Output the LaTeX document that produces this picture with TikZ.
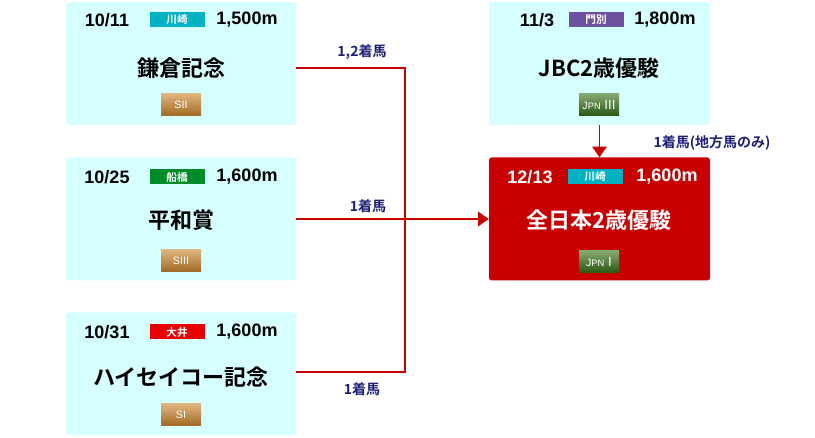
\documentclass[tikz,border=0pt]{standalone}
\usepackage{fontspec}
\setmainfont{Liberation Sans}
\newfontfamily\jp{Noto Sans CJK JP}[BoldFont={Noto Sans CJK JP Bold}]
\usetikzlibrary{arrows.meta}
\usetikzlibrary{positioning}

\definecolor{boxcyan}{RGB}{214,255,255}
\definecolor{boxred}{RGB}{200,0,0}
\definecolor{kawasaki}{RGB}{0,178,196}
\definecolor{funabashi}{RGB}{0,140,40}
\definecolor{ooi}{RGB}{235,0,0}
\definecolor{monbetsu}{RGB}{110,80,160}
\definecolor{gold}{RGB}{200,130,40}
\definecolor{jpngreen}{RGB}{50,110,20}
\definecolor{navy}{RGB}{30,30,120}

\tikzset{
  racebox/.style={rounded corners=2pt, minimum width=230*0.75pt, minimum height=123*0.75pt, inner sep=0pt},
  venue/.style={fill=#1, text=white, font=\jp\bfseries\fontsize{8}{8}\selectfont, minimum width=55*0.75pt, minimum height=15*0.75pt, inner sep=0pt},
  grade/.style={top color=#1!60!white, bottom color=#1!80!black, text=white, font=\rmfamily\fontsize{8}{8}\selectfont, minimum width=40*0.75pt, minimum height=22*0.75pt, inner sep=0pt},
  dateline/.style={font=\bfseries\fontsize{13.5}{14}\selectfont},
  title/.style={font=\jp\bfseries\fontsize{16.5}{17}\selectfont},
  cond/.style={text=navy, font=\jp\bfseries\fontsize{10.5}{11}\selectfont},
  link/.style={boxred, line width=0.9pt}
}

\begin{document}
\begin{tikzpicture}[x=0.75pt, y=-0.75pt]
  \useasboundingbox (0,0) rectangle (815,438);

  % boxes
  \node[racebox, fill=boxcyan] (kama) at (181,63.5) {};
  \node[racebox, fill=boxcyan] (heiwa) at (181,219) {};
  \node[racebox, fill=boxcyan] (haise) at (181,374) {};
  \node[racebox, fill=boxcyan, minimum width=221*0.75pt] (jbc) at (599.5,63.5) {};
  \node[racebox, fill=boxred, minimum width=221*0.75pt] (zen) at (599.5,219) {};

  % kamakura kinen
  \node[dateline] (kamad) at (107,20) {10/11};
  \node[venue=kawasaki] (kamav) at (177,20) {川崎};
  \node[dateline] (kamal) at (247,20) {1,500m};
  \node[title] (kamat) at (181,68) {鎌倉記念};
  \node[grade=gold] (kamag) at (181,105) {SII};

  % heiwa sho
  \node[dateline] (heiwad) at (107,177) {10/25};
  \node[venue=funabashi] (heiwav) at (177,177) {船橋};
  \node[dateline] (heiwal) at (247,177) {1,600m};
  \node[title] (heiwat) at (181,220) {平和賞};
  \node[grade=gold] (heiwag) at (181,261) {SIII};

  % haiseiko kinen
  \node[dateline] (haised) at (107,332) {10/31};
  \node[venue=ooi] (haisev) at (177,332) {大井};
  \node[dateline] (haisel) at (247,332) {1,600m};
  \node[title] (haiset) at (181,377) {ハイセイコー記念};
  \node[grade=gold] (haiseg) at (181,415) {SI};

  % jbc nisai yushun
  \node[dateline] (jbcd) at (537,20) {11/3};
  \node[venue=monbetsu] (jbcv) at (596,20) {門別};
  \node[dateline] (jbcl) at (665,20) {1,800m};
  \node[title] (jbct) at (599,68) {JBC2歳優駿};
  \node[grade=jpngreen] (jbcg) at (599,105) {J\scriptsize PN\normalsize~III};

  % zen-nihon nisai yushun
  \node[dateline, text=white] (zend) at (530,177) {12/13};
  \node[venue=kawasaki] (zenv) at (595,177) {川崎};
  \node[dateline, text=white] (zenl) at (667,177) {1,600m};
  \node[title, text=white] (zent) at (599,220) {全日本2歳優駿};
  \node[grade=jpngreen] (zeng) at (599,262) {J\scriptsize PN\normalsize~I};

  % connectors
  \coordinate (join) at (405,219);
  \draw[link] (kama.east |- 0,68) -| (join);
  \draw[link] (haise.east |- 0,372) -| (join);
  \draw[link, -{Triangle[length=8pt, width=11pt]}] (heiwa.east) -- (zen.west);
  \draw[link, -{Triangle[length=8pt, width=11pt]}] (jbc.south) -- (zen.north);

  % conditions
  \node[cond] (c1) at (362,52) {1,2着馬};
  \node[cond] (c2) at (368,206) {1着馬};
  \node[cond] (c3) at (362,389) {1着馬};
  \node[cond] (c4) at (712,143) {1着馬(地方馬のみ)};
\end{tikzpicture}
\end{document}
